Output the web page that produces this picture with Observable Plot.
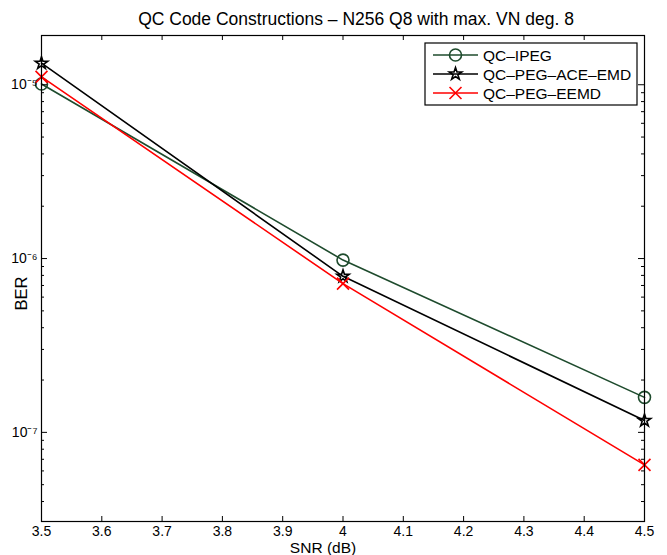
<!DOCTYPE html>
<html>
<head>
<meta charset="utf-8">
<script src="https://cdn.jsdelivr.net/npm/d3@7"></script>
<script src="https://cdn.jsdelivr.net/npm/@observablehq/plot@0.6"></script>
<style>
  html, body { margin: 0; padding: 0; background: #fff; }
  #chart svg { display: block; }
</style>
</head>
<body>
<div id="chart"></div>
<script>
// ---- data ----
const snr = [3.5, 4.0, 4.5];
const berIPEG = [1.01e-5, 9.8e-7, 1.59e-7];
const berACE = [1.33e-5, 7.9e-7, 1.17e-7];
const berEEMD = [1.11e-5, 7.17e-7, 6.5e-8];
const seriesNames = ["QC–IPEG", "QC–PEG–ACE–EMD", "QC–PEG–EEMD"];
const seriesColors = ["#1e4b2d", "#000000", "#ff0000"];
const seriesSymbols = ["circle", "star", "times"];
const xTicks = [3.5, 3.6, 3.7, 3.8, 3.9, 4.0, 4.1, 4.2, 4.3, 4.4, 4.5];
const xTickLabels = ["3.5", "3.6", "3.7", "3.8", "3.9", "4", "4.1", "4.2", "4.3", "4.4", "4.5"];
const yMajorTicks = [1e-7, 1e-6, 1e-5];
const yTickLabels = ["10⁻⁷", "10⁻⁶", "10⁻⁵"];
const yMinorTicks = [4e-8, 5e-8, 6e-8, 7e-8, 8e-8, 9e-8,
  2e-7, 3e-7, 4e-7, 5e-7, 6e-7, 7e-7, 8e-7, 9e-7,
  2e-6, 3e-6, 4e-6, 5e-6, 6e-6, 7e-6, 8e-6, 9e-6];
const xDomain = [3.5, 4.5];
const yDomain = [3.07e-8, 1.92e-5];
const titleText = "QC Code Constructions – N256 Q8 with max. VN deg. 8";
const xLabel = "SNR (dB)";
const yLabel = "BER";

// ---- layout / style ----
const W = 667, H = 555;
const mL = 41, mR = 23, mT = 35, mB = 34;
const fw = W - mL - mR, fh = H - mT - mB;
const font = "'Liberation Sans', Arial, Helvetica, sans-serif";
const seriesValues = [berIPEG, berACE, berEEMD];
const markerR = [6, 3.9, 5.5];

const seriesMarks = seriesValues.flatMap((vals, s) => {
  const pts = snr.map((x, i) => ({snr: x, ber: vals[i]}));
  return [
    Plot.line(pts, {x: "snr", y: "ber", stroke: seriesColors[s], strokeWidth: 1.6}),
    Plot.dot(pts, {x: "snr", y: "ber", stroke: seriesColors[s], fill: "none",
      symbol: seriesSymbols[s], r: markerR[s], strokeWidth: 1.6})
  ];
});

const chart = Plot.plot({
  width: W, height: H,
  marginLeft: mL, marginRight: mR, marginTop: mT, marginBottom: mB,
  style: {fontFamily: font, fontSize: "14px", color: "black", background: "white", overflow: "visible"},
  x: {domain: xDomain},
  y: {type: "log", domain: yDomain},
  marks: [
    ...seriesMarks,
    Plot.frame({stroke: "black", strokeWidth: 1.2}),
    Plot.tickX(xTicks, {x: d => d, insetTop: fh - 5, stroke: "black"}),
    Plot.tickX(xTicks, {x: d => d, insetBottom: fh - 5, stroke: "black"}),
    Plot.tickY(yMajorTicks, {y: d => d, insetRight: fw - 6, stroke: "black"}),
    Plot.tickY(yMajorTicks, {y: d => d, insetLeft: fw - 6, stroke: "black"}),
    Plot.tickY(yMinorTicks, {y: d => d, insetRight: fw - 3, stroke: "black"}),
    Plot.tickY(yMinorTicks, {y: d => d, insetLeft: fw - 3, stroke: "black"}),
    Plot.axisX({ticks: xTicks, tickSize: 0, tickPadding: 5, label: null,
      tickFormat: d => xTickLabels[xTicks.findIndex(t => Math.abs(t - d) < 1e-9)]}),
    Plot.axisY({ticks: yMajorTicks, tickSize: 0, tickPadding: 4, label: null,
      tickFormat: d => yTickLabels[yMajorTicks.findIndex(t => Math.abs(t / d - 1) < 1e-6)]}),
    Plot.text([titleText], {text: d => d, frameAnchor: "top", dx: 13, dy: -11,
      lineAnchor: "bottom", fontSize: 17.5}),
    Plot.text([xLabel], {text: d => d, frameAnchor: "bottom", dx: -20, dy: 31,
      lineAnchor: "bottom", fontSize: 15.5}),
    Plot.text([yLabel], {text: d => d, frameAnchor: "left", dx: -15, dy: 32,
      rotate: -90, lineAnchor: "bottom", fontSize: 16.5})
  ]
});
document.getElementById("chart").appendChild(chart);

// ---- legend ----
const svg = d3.select(chart);
const lg = svg.append("g");
const lx = 425, ly = 43, lw = 212, lh = 62;
lg.append("rect").attr("x", lx).attr("y", ly).attr("width", lw).attr("height", lh)
  .attr("fill", "white").attr("stroke", "black").attr("stroke-width", 1.2);
const symTypes = {circle: d3.symbolCircle, star: d3.symbolStar, times: d3.symbolTimes};
seriesNames.forEach((name, i) => {
  const cy = ly + 12 + i * 19;
  lg.append("line").attr("x1", lx + 8).attr("x2", lx + 53).attr("y1", cy).attr("y2", cy)
    .attr("stroke", seriesColors[i]).attr("stroke-width", 1.6);
  lg.append("path")
    .attr("d", d3.symbol(symTypes[seriesSymbols[i]], Math.PI * markerR[i] * markerR[i])())
    .attr("transform", `translate(${lx + 30.5},${cy})`)
    .attr("fill", "none").attr("stroke", seriesColors[i]).attr("stroke-width", 1.6);
  lg.append("text").attr("x", lx + 58).attr("y", cy).attr("dy", "0.36em")
    .attr("text-anchor", "start")
    .style("font-family", font).style("font-size", "15.5px").style("text-anchor", "start")
    .attr("fill", "black").text(name);
});
</script>
</body>
</html>
